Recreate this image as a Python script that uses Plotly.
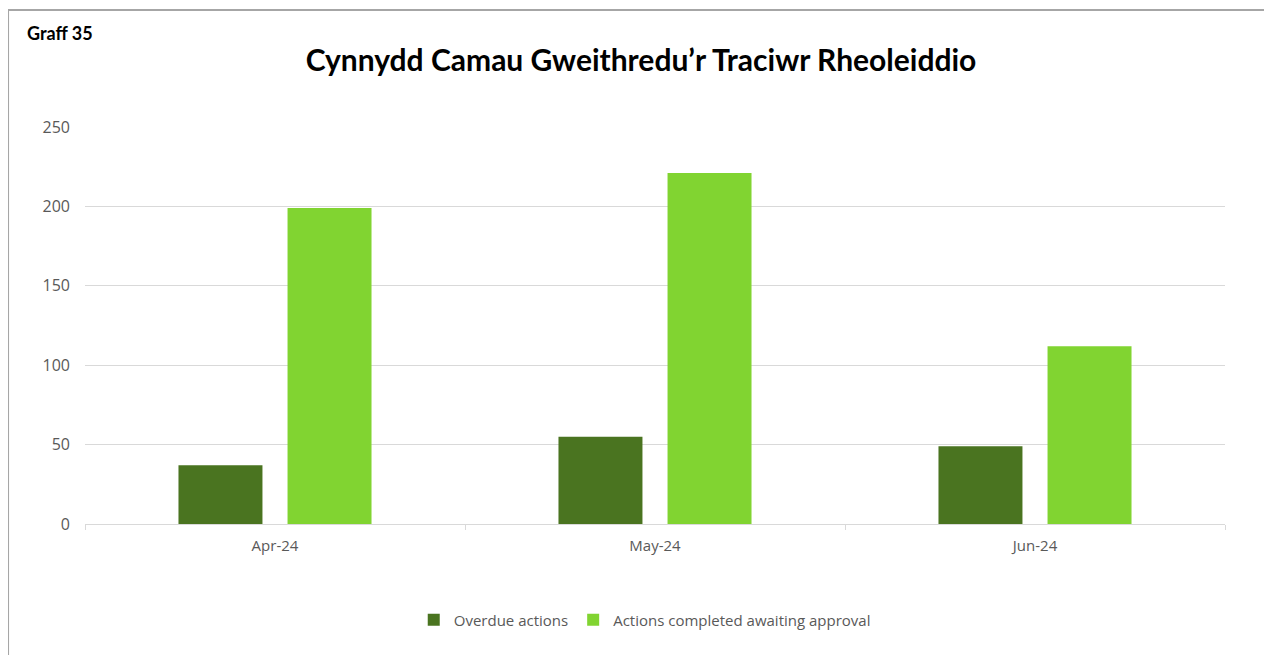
import plotly.graph_objects as go

# データ
months = ["Apr-24", "May-24", "Jun-24"]
overdue_actions = [37, 55, 49]
awaiting_approval = [199, 221, 112]
y_ticks = [0, 50, 100, 150, 200, 250]

DARK_GREEN = "#4A7420"
LIGHT_GREEN = "#81D431"
GRID = "#D9D9D9"
TEXT = "#595959"

# ページの余白(8px)を差し引いたサイズ
W, H = 1264, 647

fig = go.Figure()
fig.add_trace(go.Bar(
    x=months, y=overdue_actions, name="Overdue actions",
    marker=dict(color=DARK_GREEN, line=dict(width=0)),
))
fig.add_trace(go.Bar(
    x=months, y=awaiting_approval, name="Actions completed awaiting approval",
    marker=dict(color=LIGHT_GREEN, line=dict(width=0)),
))

# 外枠とラベル
fig.add_shape(
    type="rect", xref="paper", yref="paper",
    x0=-0.0675, x1=1.0395, y0=-0.36, y1=1.2947,
    line=dict(color="#A6A6A6", width=2), fillcolor="rgba(0,0,0,0)",
    layer="below",
)
fig.add_annotation(
    text="<b>Graff 35</b>", xref="paper", yref="paper",
    x=-0.0525, y=1.2368, xanchor="left", yanchor="middle",
    showarrow=False, font=dict(family="Lato", size=18, color="black"),
)

fig.update_layout(
    title=dict(
        text="<b>Cynnydd Camau Gweithredu’r Traciwr Rheoleiddio</b>",
        x=0.5008, xanchor="center", y=1 - 52 / H, yanchor="middle",
        font=dict(family="Lato", size=30, color="black"),
    ),
    width=W, height=H,
    margin=dict(l=77, r=47, t=119, b=131),
    plot_bgcolor="white", paper_bgcolor="white",
    barmode="group", bargap=0.426, bargroupgap=0.23,
    font=dict(family="Open Sans", size=15, color=TEXT),
    legend=dict(
        orientation="h", x=0.491, xanchor="center", y=-0.242, yanchor="middle",
        font=dict(size=15, color=TEXT), traceorder="normal",
    ),
    xaxis=dict(
        showline=True, linecolor=GRID, linewidth=1,
        ticks="outside", tickson="boundaries", ticklen=5, tickcolor=GRID,
        showgrid=False, tickfont=dict(size=15, color=TEXT),
        ticklabelstandoff=8,
    ),
    yaxis=dict(
        range=[0, 250], tickvals=y_ticks, showgrid=True, gridcolor=GRID,
        gridwidth=1, zeroline=False, ticks="", ticklabelstandoff=14,
        tickfont=dict(size=16, color=TEXT),
    ),
)

fig.write_html("out.html")
